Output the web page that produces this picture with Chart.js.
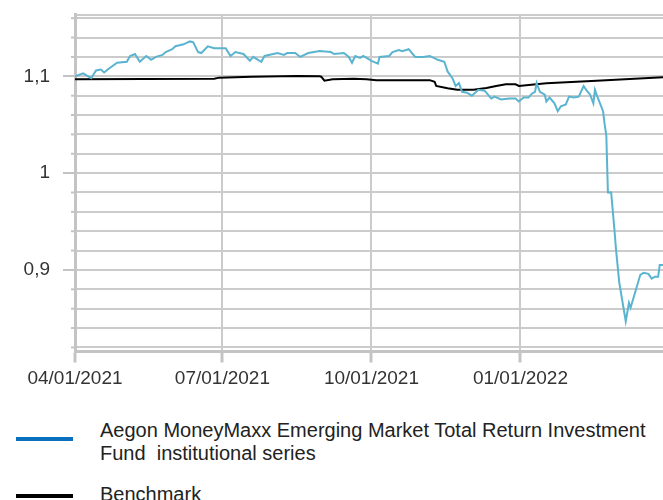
<!DOCTYPE html>
<html>
<head>
<meta charset="utf-8">
<script src="https://cdn.jsdelivr.net/npm/chart.js@4.4.0/dist/chart.umd.min.js"></script>
<style>
  body { margin: 0; background: #fff; overflow: hidden; }
  #wrap { position: relative; width: 663px; height: 500px; }
  #myChart { position: absolute; left: 0; top: 0; }
  .legend-line { position: absolute; left: 16px; width: 57px; height: 4px; }
  .legend-text { position: absolute; left: 100px; width: 563px; font: 20px/23px "Liberation Sans", Arial, sans-serif; color: #222; white-space: pre-wrap; }
</style>
</head>
<body>
<div id="wrap">
  <canvas id="myChart" width="663" height="400"></canvas>
  <div id="legend"></div>
</div>
<script>
// series names + legend colours
const seriesNames = ['Aegon MoneyMaxx Emerging Market Total Return Investment Fund  institutional series', 'Benchmark'];
const lineColors = ['#5ab4d0', '#000000'];
const legendColors = ['#0a70be', '#000000'];

// fund
const fundDates = [
  '2021-04-01','2021-04-06','2021-04-11','2021-04-14','2021-04-17','2021-04-19','2021-04-22','2021-04-27',
  '2021-05-03','2021-05-05','2021-05-08','2021-05-11','2021-05-15','2021-05-18','2021-05-21','2021-05-25',
  '2021-05-27','2021-05-31','2021-06-02','2021-06-07','2021-06-11','2021-06-13','2021-06-16','2021-06-18',
  '2021-06-22','2021-06-26','2021-07-03','2021-07-06','2021-07-09','2021-07-14','2021-07-18','2021-07-20',
  '2021-07-25','2021-07-27','2021-08-04','2021-08-08','2021-08-10','2021-08-15','2021-08-18','2021-08-23',
  '2021-08-30','2021-09-06','2021-09-08','2021-09-14','2021-09-17','2021-09-19','2021-09-21','2021-09-24',
  '2021-09-26','2021-10-01','2021-10-05','2021-10-06','2021-10-12','2021-10-14','2021-10-18','2021-10-20',
  '2021-10-24','2021-10-28','2021-11-02','2021-11-06','2021-11-11','2021-11-15','2021-11-17','2021-11-20',
  '2021-11-22','2021-11-24','2021-11-26','2021-11-29','2021-12-02','2021-12-06','2021-12-10','2021-12-14',
  '2021-12-16','2021-12-20','2021-12-25','2021-12-29','2021-12-31','2022-01-03','2022-01-06','2022-01-08',
  '2022-01-10','2022-01-11','2022-01-13','2022-01-16','2022-01-17','2022-01-19','2022-01-22','2022-01-24',
  '2022-01-26','2022-01-29','2022-01-31','2022-02-03','2022-02-06','2022-02-09','2022-02-11','2022-02-13',
  '2022-02-15','2022-02-16','2022-02-17','2022-02-21','2022-02-22','2022-02-23','2022-02-24','2022-02-26',
  '2022-02-28','2022-03-01','2022-03-03','2022-03-07','2022-03-09','2022-03-10','2022-03-16','2022-03-18',
  '2022-03-21','2022-03-23','2022-03-25','2022-03-27','2022-03-28','2022-03-30'
];
const fundValues = [
  1.100,1.103,1.098,1.106,1.107,1.104,1.108,1.114,
  1.115,1.121,1.123,1.115,1.121,1.117,1.120,1.122,
  1.125,1.128,1.131,1.133,1.136,1.135,1.125,1.124,
  1.131,1.129,1.129,1.121,1.125,1.123,1.116,1.120,
  1.115,1.121,1.124,1.122,1.124,1.124,1.120,1.124,
  1.126,1.125,1.123,1.124,1.120,1.114,1.121,1.119,
  1.121,1.116,1.113,1.120,1.121,1.125,1.127,1.126,
  1.128,1.120,1.120,1.121,1.117,1.115,1.105,1.098,
  1.090,1.093,1.084,1.083,1.080,1.086,1.085,1.077,
  1.079,1.076,1.077,1.077,1.074,1.078,1.078,1.082,
  1.084,1.093,1.084,1.081,1.074,1.078,1.072,1.064,
  1.069,1.071,1.079,1.078,1.079,1.090,1.085,1.081,
  1.072,1.086,1.081,1.064,1.050,1.039,0.980,0.980,
  0.942,0.921,0.887,0.847,0.866,0.861,0.895,0.897,
  0.896,0.891,0.893,0.893,0.905,0.905
];

// benchmark
const benchDates = [
  '2021-04-01','2021-06-26','2021-06-29','2021-07-19','2021-08-16','2021-08-30','2021-08-31','2021-09-02',
  '2021-09-07','2021-09-20','2021-09-28','2021-10-04','2021-11-06','2021-11-09','2021-11-10','2021-11-17',
  '2021-11-23','2021-12-03','2021-12-11','2021-12-17','2021-12-23','2021-12-29','2021-12-31','2022-01-17',
  '2022-02-17','2022-03-30'
];
const benchValues = [
  1.0970,1.0975,1.0986,1.0996,1.1003,1.1000,1.0996,1.0955,
  1.0970,1.0975,1.0970,1.0960,1.0960,1.0944,1.0900,1.0876,
  1.0860,1.0860,1.0880,1.0900,1.0917,1.0917,1.0900,1.0928,
  1.0955,1.0990
];

// axes
const xStart = '2021-04-01';
const xEnd = '2022-03-30';
const xTickDates = ['2021-04-01', '2021-07-01', '2021-10-01', '2022-01-01'];
const yMin = 0.8158;
const yMax = 1.1638;
const yMajorValues = [0.9, 1.0, 1.1];
const yMajorLabels = ['0,9', '1', '1,1'];
const yGridValues = [0.82,0.84,0.86,0.88,0.90,0.92,0.94,0.96,0.98,1.00,1.02,1.04,1.06,1.08,1.10,1.12,1.14,1.16];

const startMs = Date.parse(xStart);
const dayOf = d => Math.round((Date.parse(d) - startMs) / 86400000);
const pad2 = n => String(n).padStart(2, '0');
function fmtDay(day) {
    const d = new Date(startMs + day * 86400000);
    return pad2(d.getUTCMonth() + 1) + '/' + pad2(d.getUTCDate()) + '/' + d.getUTCFullYear();
}
const majorIndex = v => yMajorValues.findIndex(m => Math.abs(m - v) < 1e-9);

const gridColor = '#cbcbcb';
const axisColor = '#c4c4c4';

// short ticks for the unlabelled y gridlines
const minorTicks = {
    id: 'minorTicks',
    afterDraw(chart) {
        const ctx = chart.ctx;
        const y = chart.scales.y;
        const left = chart.chartArea.left;
        ctx.save();
        ctx.strokeStyle = axisColor;
        ctx.lineWidth = 2;
        yGridValues.forEach(v => {
            if (majorIndex(v) >= 0) return;
            const py = y.getPixelForValue(v);
            ctx.beginPath();
            ctx.moveTo(left - 4, py);
            ctx.lineTo(left, py);
            ctx.stroke();
        });
        ctx.restore();
    }
};

Chart.defaults.font.family = '"Liberation Sans", Arial, sans-serif';
Chart.defaults.font.size = 19;
Chart.defaults.color = '#333333';

new Chart(document.getElementById('myChart').getContext('2d'), {
    type: 'line',
    data: {
        datasets: [
            {
                label: seriesNames[0],
                data: fundDates.map((d, i) => ({ x: dayOf(d), y: fundValues[i] })),
                borderColor: lineColors[0],
                borderWidth: 2,
                pointRadius: 0,
                tension: 0
            },
            {
                label: seriesNames[1],
                data: benchDates.map((d, i) => ({ x: dayOf(d), y: benchValues[i] })),
                borderColor: lineColors[1],
                borderWidth: 2,
                pointRadius: 0,
                tension: 0
            }
        ]
    },
    options: {
        responsive: false,
        animation: false,
        devicePixelRatio: 1,
        layout: { padding: { top: 14.5, right: 0, bottom: 0, left: 0 } },
        scales: {
            x: {
                type: 'linear',
                min: 0,
                max: dayOf(xEnd),
                afterBuildTicks: scale => { scale.ticks = xTickDates.map(d => ({ value: dayOf(d) })); },
                afterFit: scale => { scale.height = 48.5; scale.paddingLeft = 0; scale.paddingRight = 0; },
                ticks: {
                    autoSkip: false,
                    maxRotation: 0,
                    padding: 5,
                    callback: v => fmtDay(v)
                },
                grid: { color: gridColor, lineWidth: 2, tickLength: 11, tickColor: axisColor, tickWidth: 3 },
                border: { color: axisColor, width: 3 }
            },
            y: {
                min: yMin,
                max: yMax,
                afterBuildTicks: scale => {
                    scale.ticks = [{ value: yMin }].concat(yGridValues.map(v => ({ value: v })), [{ value: yMax }]);
                },
                afterFit: scale => { scale.width = 75; scale.paddingTop = 0; scale.paddingBottom = 0; },
                ticks: {
                    autoSkip: false,
                    padding: 13,
                    callback: v => {
                        const i = majorIndex(v);
                        return i >= 0 ? yMajorLabels[i] : '';
                    }
                },
                grid: {
                    color: gridColor,
                    lineWidth: 2,
                    tickLength: 12,
                    tickColor: c => majorIndex(c.tick.value) >= 0 ? axisColor : 'rgba(0,0,0,0)'
                },
                border: { color: axisColor, width: 3 }
            }
        },
        plugins: {
            legend: { display: false },
            tooltip: { enabled: false }
        }
    },
    plugins: [minorTicks]
});

// legend below the chart
const legendTops = [419, 483];
const legendLineTops = [437, 494];
const legendBox = document.getElementById('legend');
seriesNames.forEach((name, i) => {
    const line = document.createElement('div');
    line.className = 'legend-line';
    line.style.top = legendLineTops[i] + 'px';
    line.style.background = legendColors[i];
    legendBox.appendChild(line);
    const txt = document.createElement('div');
    txt.className = 'legend-text';
    txt.style.top = legendTops[i] + 'px';
    txt.textContent = name;
    legendBox.appendChild(txt);
});
</script>
</body>
</html>
